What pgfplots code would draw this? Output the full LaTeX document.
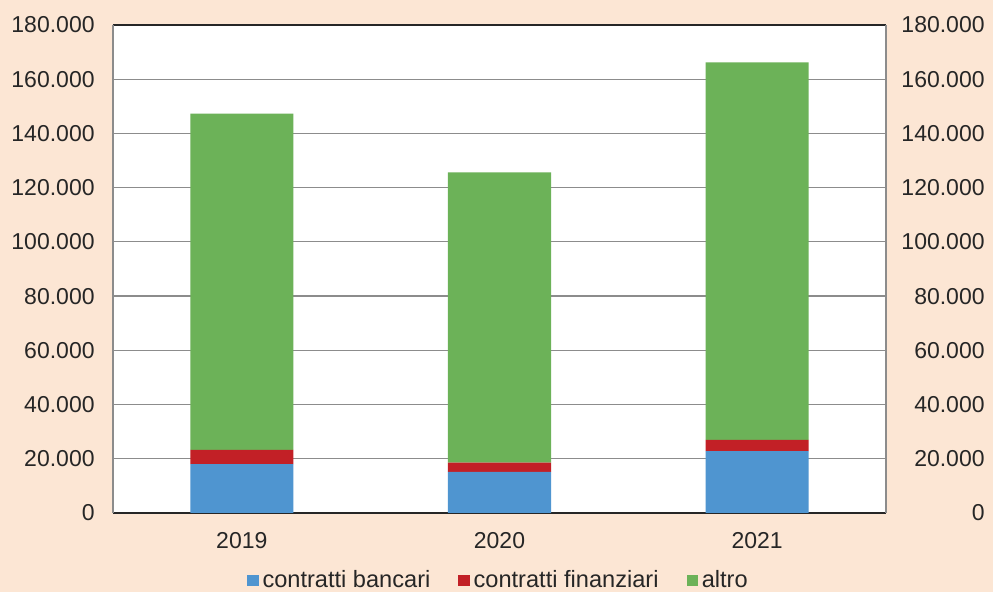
\documentclass[border=0pt]{standalone}
\usepackage{fontspec}
\setmainfont{Liberation Sans}
\usepackage{pgfplots}
\pgfplotsset{compat=1.18}
\definecolor{bgpeach}{HTML}{FCE6D4}
\definecolor{cblue}{HTML}{4F95D0}
\definecolor{cred}{HTML}{C22026}
\definecolor{cgreen}{HTML}{6CB258}
\definecolor{gridgray}{HTML}{8C8C8C}

\pgfplotsset{
  common/.style={
    at={(0,0)}, anchor=south west,
    scale only axis, width=386.5pt, height=244pt,
    xmin=-0.5, xmax=2.5, ymin=0, ymax=180000,
    ytick={0,20000,40000,60000,80000,100000,120000,140000,160000,180000},
    scaled y ticks=false,
    major tick length=0pt,
    tick label style={font=\fontsize{11.5}{13}\selectfont, text=black!85},
    yticklabel style={/pgf/number format/fixed, /pgf/number format/1000 sep={.},
      /pgf/number format/assume math mode=true},
  }
}

\begin{document}
\begin{tikzpicture}
\useasboundingbox (-56.5pt,-39.5pt) rectangle (440pt,256.5pt);
\fill[bgpeach] (-56.5pt,-39.5pt) rectangle (440pt,256.5pt);
\begin{axis}[
  common,
  axis background/.style={fill=white},
  ybar stacked, bar width=0.4,
  xtick=data, xticklabels={2019,2020,2021},
  xticklabel style={yshift=-6pt},
  yticklabel style={inner sep=0pt, xshift=-9pt},
  ymajorgrids, grid style={gridgray, line width=0.6pt},
  separate axis lines,
  x axis line style={black!85, line width=0.8pt},
  y axis line style={gridgray, line width=0.6pt},
  legend columns=3,
  legend style={draw=none, fill=none, at={(0.5,0)}, anchor=north, yshift=-24.5pt,
    font=\fontsize{11.8}{13}\selectfont, text=black!85,
    /tikz/every even column/.append style={column sep=12pt},
    /tikz/every odd column/.append style={column sep=0pt}},
  legend image code/.code={\fill[#1] (0pt,-2.8pt) rectangle (5.6pt,2.9pt);},
]
\addplot[fill=cblue, draw=none] coordinates {(0,18000) (1,15200) (2,22800)};
\addplot[fill=cred, draw=none] coordinates {(0,5300) (1,3400) (2,4200)};
\addplot[fill=cgreen, draw=none] coordinates {(0,124000) (1,107000) (2,139200)};
\legend{contratti bancari, contratti finanziari, altro}
\end{axis}
\begin{axis}[
  common,
  axis x line=none,
  axis y line*=right,
  y axis line style={gridgray, line width=0.6pt},
  yticklabel style={anchor=east, inner sep=0pt, xshift=49.5pt},
]
\addplot[draw=none] coordinates {(0,0)};
\end{axis}
\end{tikzpicture}
\end{document}
